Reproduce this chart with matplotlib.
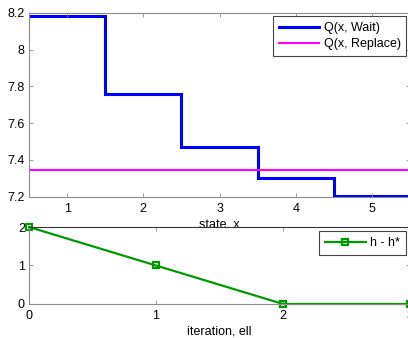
import matplotlib
matplotlib.use('Agg')
import matplotlib.pyplot as plt
import numpy as np

plt.rcParams['font.family'] = ['Liberation Sans', 'DejaVu Sans']
plt.rcParams['font.size'] = 9

# data
states = np.array([1, 2, 3, 4, 5])
q_wait = [8.18, 7.76, 7.472, 7.30, 7.205]
q_replace = 7.345
iterations = [0, 1, 2, 3]
h_gap = [2, 1, 0, 0]

spine_grey = '#8c8c8c'


def style_axes(ax):
    for side in ['left', 'bottom', 'top', 'right']:
        ax.spines[side].set_color(spine_grey)
        ax.spines[side].set_linewidth(0.8)
    ax.tick_params(direction='in', length=3, width=0.6, color=spine_grey,
                   top=True, right=True, labelcolor='black')
    ax.tick_params(axis='x', pad=4.5)
    ax.tick_params(axis='y', pad=3)


fig = plt.figure(figsize=(4.08, 3.38), dpi=100)

# top panel: Q values over the state
ax1 = fig.add_axes([29 / 408, 0.418, 381 / 408, 0.5444])
edges = np.append(states - 0.5, states[-1] + 0.5)
ax1.stairs(q_wait, edges, baseline=None,
           color='#0000ff', linewidth=2.2, label='Q(x, Wait)')
ax1.axhline(q_replace, color='#ff00ff', linewidth=1.5, label='Q(x, Replace)')
ax1.set_xlim(0.5, 5.5)
ax1.set_ylim(7.2, 8.2)
ax1.set_xticks([1, 2, 3, 4, 5])
ax1.set_yticks([7.2, 7.4, 7.6, 7.8, 8.0, 8.2])
ax1.set_yticklabels(['7.2', '7.4', '7.6', '7.8', '8', '8.2'])
ax1.set_xlabel('state, x', labelpad=3.5)
style_axes(ax1)
leg1 = ax1.legend(loc='upper right', fancybox=False, framealpha=1,
                  edgecolor='#444444', handlelength=3.2, handletextpad=0.4,
                  borderaxespad=0.3, borderpad=0.45, labelspacing=0.32)
leg1.get_frame().set_linewidth(0.8)

# bottom panel: gap to the optimum per iteration
ax2 = fig.add_axes([29 / 408, 0.1006, 381 / 408, 0.2278])
ax2.plot(iterations, h_gap, '-s', color='#009900', linewidth=1.6,
         markersize=5, markerfacecolor='none', markeredgewidth=1.6,
         label='h - h*', clip_on=False)
ax2.set_xlim(0, 3)
ax2.set_ylim(0, 2)
ax2.set_xticks([0, 1, 2, 3])
ax2.set_yticks([0, 1, 2])
ax2.set_xlabel('iteration, ell', labelpad=2.5)
style_axes(ax2)
ax2.spines['top'].set_color('#333333')
leg2 = ax2.legend(loc='upper right', fancybox=False, framealpha=1,
                  edgecolor='#444444', handlelength=3.3, handletextpad=0.35,
                  borderaxespad=0.35, borderpad=0.45)
leg2.get_frame().set_linewidth(0.8)

fig.savefig('out.png', dpi=100)
